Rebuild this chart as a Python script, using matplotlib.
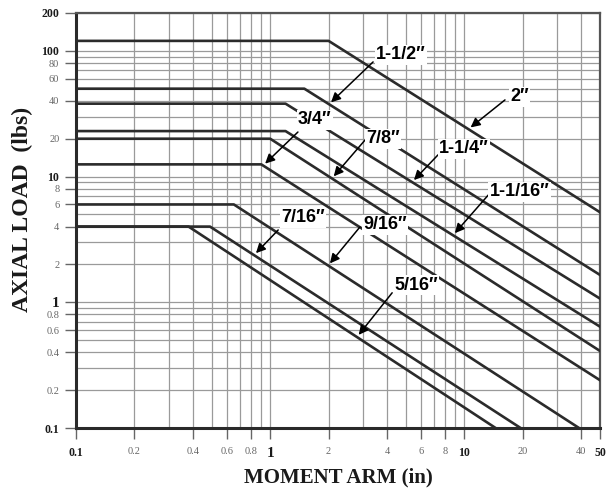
import numpy as np
import matplotlib
matplotlib.use("Agg")
import matplotlib.pyplot as plt
from matplotlib.ticker import FixedLocator, NullFormatter

# Screw sizes and their load curves: flat load limit up to a knee, then a
# falling line down to where the curve leaves the chart.
sizes = ['2″', '1-1/2″', '1-1/4″', '1-1/16″', '7/8″', '3/4″', '9/16″', '7/16″', '5/16″']
plateau_load = [120, 50, 38, 23, 20, 12.5, 6, 4, 4]
knee_arm = [2.0, 1.5, 1.2, 1.2, 1.0, 0.9, 0.65, 0.49, 0.38]
end_arm = [50, 50, 50, 50, 50, 50, 39, 19.5, 14.5]
end_load = [5.2, 1.65, 1.07, 0.64, 0.41, 0.24, 0.1, 0.1, 0.1]

x_ticks = [0.1, 0.2, 0.4, 0.6, 0.8, 1, 2, 4, 6, 8, 10, 20, 40, 50]
x_tick_labels = ['0.1', '0.2', '0.4', '0.6', '0.8', '1', '2', '4', '6', '8', '10', '20', '40', '50']
y_ticks = [0.1, 0.2, 0.4, 0.6, 0.8, 1, 2, 4, 6, 8, 10, 20, 40, 60, 80, 100, 200]
y_tick_labels = ['0.1', '0.2', '0.4', '0.6', '0.8', '1', '2', '4', '6', '8', '10', '20', '40', '60', '80', '100', '200']

x_min, x_max = 0.1, 50
y_min, y_max = 0.1, 200

# label placement: text centre, arrow tail, arrow tip (arm value on the curve)
label_text_pos = [(19.2, 43), (4.73, 92.7), (9.97, 16.6), (19.2, 7.54), (3.82, 19.9),
                  (1.70, 28.2), (3.91, 4.12), (1.48, 4.69), (5.65, 1.37)]
label_tail_pos = [(16.2, 40.7), (3.39, 81.6), (7.33, 14.9), (13.3, 7.14), (3.08, 19.5),
                  (1.39, 22.6), (2.90, 3.97), (1.10, 3.76), (4.25, 1.19)]
label_tip_arm = [10.5, 2.01, 5.38, 8.75, 2.08, 0.92, 1.99, 0.826, 2.80]

fig = plt.figure(figsize=(6.11, 4.90), dpi=100)
ax = fig.add_axes([0.1244, 0.1265, 0.8576, 0.847])
ax.set_xscale('log')
ax.set_yscale('log')
ax.set_xlim(x_min, x_max)
ax.set_ylim(y_min, y_max)

# grid at every 1..9 multiple of each decade
grid_vals_x = [m * 10.0 ** e for e in range(-1, 2) for m in range(1, 10)] + [50]
grid_vals_y = [m * 10.0 ** e for e in range(-1, 3) for m in range(1, 10)]
grid_vals_x = [v for v in grid_vals_x if x_min <= v <= x_max]
grid_vals_y = [v for v in grid_vals_y if y_min <= v <= y_max]
for v in grid_vals_x:
    ax.axvline(v, color='#9a9a9a', lw=0.9, zorder=1)
for v in grid_vals_y:
    ax.axhline(v, color='#9a9a9a', lw=0.9, zorder=1)

curves = []
for L, k, ea, el in zip(plateau_load, knee_arm, end_arm, end_load):
    xs = [x_min, k, ea]
    ys = [L, L, el]
    curves.append((xs, ys))
    ax.plot(xs, ys, color='#2b2b2b', lw=1.9, solid_joinstyle='round', zorder=3)

def load_on_curve(xs, ys, arm):
    lx = np.log10(xs)
    ly = np.log10(ys)
    return 10 ** np.interp(np.log10(arm), lx, ly)

for name, (xs, ys), tpos, tail, tip in zip(sizes, curves, label_text_pos,
                                             label_tail_pos, label_tip_arm):
    tip_xy = (tip, load_on_curve(xs, ys, tip))
    ax.annotate('', xy=tip_xy, xytext=tail,
                arrowprops=dict(arrowstyle='-|>', color='black', lw=1.1,
                                mutation_scale=14, shrinkA=0, shrinkB=2),
                zorder=5)
    ax.text(tpos[0], tpos[1], name, ha='center', va='center', fontsize=13,
            fontweight='bold', family=['Liberation Sans', 'DejaVu Sans'],
            color='black', zorder=6,
            bbox=dict(boxstyle='square,pad=0.08', fc='white', ec='none'))

# ticks and tick labels
ax.xaxis.set_major_locator(FixedLocator(x_ticks))
ax.yaxis.set_major_locator(FixedLocator(y_ticks))
ax.xaxis.set_minor_formatter(NullFormatter())
ax.yaxis.set_minor_formatter(NullFormatter())
ax.tick_params(which='minor', length=0)
ax.tick_params(which='major', direction='out', length=8, width=1.0, color='#666666')
ax.set_xticks(x_ticks)
ax.set_xticklabels(x_tick_labels)
ax.set_yticks(y_ticks)
ax.set_yticklabels(y_tick_labels)
ax.tick_params(axis='x', which='minor', bottom=False)
ax.tick_params(axis='y', which='minor', left=False)

strong = {'0.1', '1', '10', '100', '200', '50'}
for lab in ax.get_xticklabels() + ax.get_yticklabels():
    t = lab.get_text()
    lab.set_family('Liberation Serif')
    if t in strong:
        lab.set_fontweight('bold')
        lab.set_fontsize(11 if t == '1' else 8.5)
        lab.set_color('#1a1a1a')
    else:
        lab.set_fontsize(7.5)
        lab.set_color('#666666')
ax.tick_params(axis='x', pad=6)
ax.tick_params(axis='y', pad=4)

for side in ('left', 'bottom'):
    ax.spines[side].set_linewidth(2.2)
    ax.spines[side].set_color('#2a2a2a')
for side in ('top', 'right'):
    ax.spines[side].set_linewidth(1.6)
    ax.spines[side].set_color('#555555')

ax.set_xlabel('MOMENT ARM (in)', family='Liberation Serif', fontweight='bold',
              fontsize=15, color='#1a1a1a')
ax.xaxis.set_label_coords(0.5, -0.118)
ax.xaxis.label.set_va('center')
ax.set_ylabel('AXIAL LOAD  (lbs)', family='Liberation Serif', fontweight='bold',
              fontsize=17, color='#1a1a1a')
ax.yaxis.set_label_coords(-0.103, 0.527)
ax.yaxis.label.set_va('center')

fig.savefig('out.png', dpi=100, facecolor='white')
